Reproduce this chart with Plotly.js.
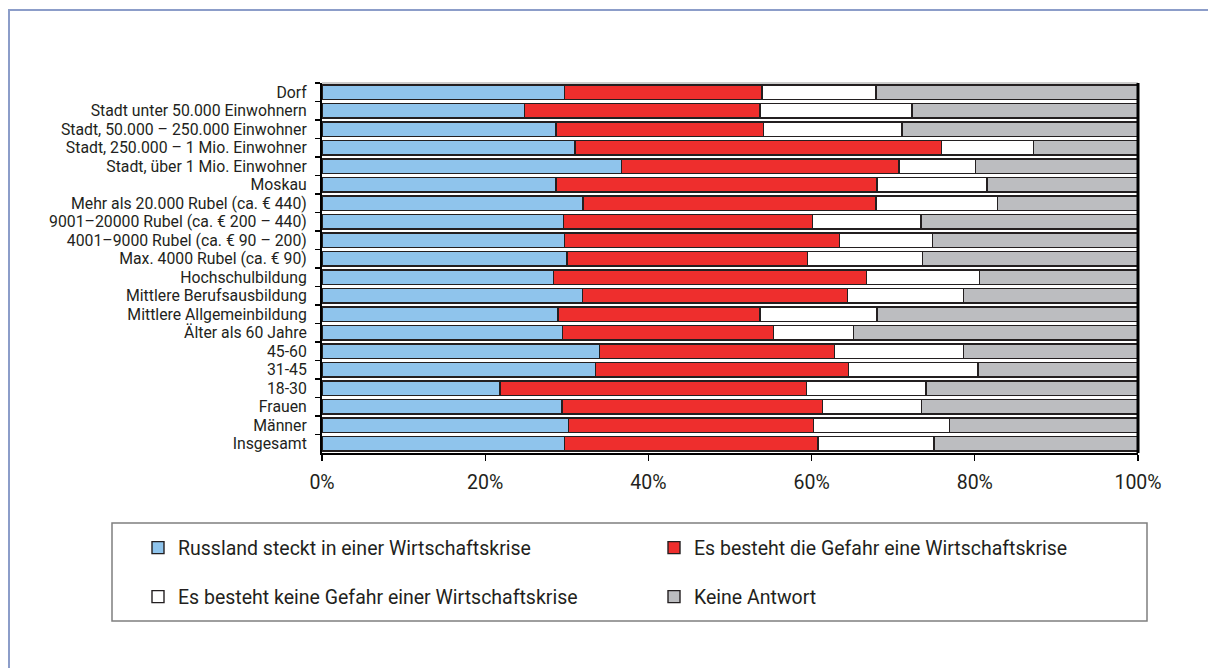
<!DOCTYPE html>
<html>
<head>
<meta charset="utf-8">
<script src="https://cdn.plot.ly/plotly-3.0.1.min.js"></script>
<style>
  html, body { margin: 0; padding: 0; background: #fff; overflow: hidden; }
  #chart { width: 1208px; height: 668px; position: absolute; left: 0; top: 0; }
  #frame { position: absolute; left: 8px; top: 9px; width: 1300px; height: 800px;
           border-top: 2px solid #8c9dc9; border-left: 2px solid #8c9dc9; pointer-events: none; }
</style>
</head>
<body>
<div id="chart"></div>
<div id="frame"></div>
<script>
// Categories, top to bottom
const categories = [
  "Dorf",
  "Stadt unter 50.000 Einwohnern",
  "Stadt, 50.000 – 250.000 Einwohner",
  "Stadt, 250.000 – 1 Mio. Einwohner",
  "Stadt, über 1 Mio. Einwohner",
  "Moskau",
  "Mehr als 20.000 Rubel (ca. € 440)",
  "9001–20000 Rubel (ca. € 200 – 440)",
  "4001–9000 Rubel (ca. € 90 – 200)",
  "Max. 4000 Rubel (ca. € 90)",
  "Hochschulbildung",
  "Mittlere Berufsausbildung",
  "Mittlere Allgemeinbildung",
  "Älter als 60 Jahre",
  "45-60",
  "31-45",
  "18-30",
  "Frauen",
  "Männer",
  "Insgesamt"
];

const seriesNames = [
  "Russland steckt in einer Wirtschaftskrise",
  "Es besteht die Gefahr eine Wirtschaftskrise",
  "Es besteht keine Gefahr einer Wirtschaftskrise",
  "Keine Antwort"
];

// Values in percent
const krise     = [29.7, 24.8, 28.7, 31.0, 36.7, 28.7, 32.0, 29.6, 29.7, 30.0, 28.4, 31.9, 28.9, 29.5, 34.0, 33.5, 21.8, 29.4, 30.2, 29.7];
const gefahr    = [24.2, 28.9, 25.4, 44.9, 34.0, 39.3, 35.9, 30.5, 33.7, 29.5, 38.3, 32.5, 24.8, 25.8, 28.8, 31.0, 37.6, 31.9, 30.0, 31.1];
const keine     = [14.0, 18.6, 17.0, 11.3,  9.4, 13.5, 14.9, 13.3, 11.4, 14.1, 13.9, 14.2, 14.3,  9.8, 15.8, 15.9, 14.6, 12.2, 16.7, 14.2];
const antwort   = [32.1, 27.7, 28.9, 12.8, 19.9, 18.5, 17.2, 26.6, 25.2, 26.4, 19.4, 21.4, 32.0, 34.9, 21.4, 19.6, 26.0, 26.5, 23.1, 25.0];

const xTickVals = [0, 20, 40, 60, 80, 100];
const xTickText = ["0%", "20%", "40%", "60%", "80%", "100%"];

const colors = ["#8fc4ec", "#ee2e2d", "#ffffff", "#bcbdc0"];
const outline = "#231f20";
const FONT = "Roboto, Liberation Sans, sans-serif";

const allValues = [krise, gefahr, keine, antwort];
const traces = allValues.map((vals, i) => ({
  type: "bar",
  orientation: "h",
  name: seriesNames[i],
  y: categories,
  x: vals,
  marker: { color: colors[i], line: { color: outline, width: 1.4 } },
  legend: i < 2 ? "legend" : "legend2",
  hoverinfo: "x+y+name"
}));

// Plot area in pixels
const L = 322, R = 1138, T = 83, B = 453;
const W = 1208, H = 668;
const px = x => (x - L) / (R - L);
const py = y => (B - y) / (B - T);

const legendCommon = {
  orientation: "h",
  xanchor: "left",
  yanchor: "middle",
  x: px(138),
  font: { family: FONT, size: 19.5, color: "#231f20" },
  entrywidth: 471,
  entrywidthmode: "pixels",
  bgcolor: "rgba(0,0,0,0)",
  borderwidth: 0,
  traceorder: "normal",
  itemclick: false,
  itemdoubleclick: false
};

const layout = {
  width: W,
  height: H,
  margin: { l: L, r: W - R, t: T, b: H - B, pad: 0 },
  paper_bgcolor: "#ffffff",
  plot_bgcolor: "#ffffff",
  barmode: "stack",
  bargap: 0.2,
  font: { family: FONT, color: "#231f20" },
  xaxis: {
    range: [0, 100],
    tickmode: "array",
    tickvals: xTickVals,
    ticktext: xTickText,
    showgrid: false,
    zeroline: false,
    showline: true,
    linecolor: "#000000",
    linewidth: 1.5,
    ticks: "outside",
    ticklen: 6,
    tickwidth: 1.2,
    tickcolor: "#000000",
    ticklabelstandoff: 5,
    tickfont: { family: FONT, size: 19.5, color: "#231f20" },
    fixedrange: true
  },
  yaxis: {
    type: "category",
    autorange: "reversed",
    tickmode: "linear",
    tick0: 0,
    dtick: 1,
    showgrid: false,
    zeroline: false,
    showline: true,
    linecolor: "#000000",
    linewidth: 2,
    ticks: "outside",
    tickson: "boundaries",
    ticklen: 5,
    tickwidth: 1.2,
    tickcolor: "#000000",
    ticklabelstandoff: 10,
    tickfont: { family: FONT, size: 15.8, color: "#231f20" },
    fixedrange: true
  },
  showlegend: true,
  legend: Object.assign({}, legendCommon, { y: py(548) }),
  legend2: Object.assign({}, legendCommon, { y: py(597) }),
  shapes: [
    // top border of plot area (thin grey)
    { type: "line", xref: "paper", yref: "paper", x0: 0, x1: 1, y0: 1, y1: 1,
      line: { color: "#9a9a9a", width: 1 } },
    // right border of plot area (thick black)
    { type: "line", xref: "paper", yref: "paper", x0: 1, x1: 1, y0: 0, y1: 1,
      line: { color: "#000000", width: 3 } },
    // legend frame
    { type: "rect", xref: "paper", yref: "paper",
      x0: px(112), x1: px(1147), y0: py(621), y1: py(523),
      line: { color: "#7f7f7f", width: 1.5 } }
  ]
};

Plotly.newPlot("chart", traces, layout, { displayModeBar: false, staticPlot: true });
</script>
</body>
</html>
